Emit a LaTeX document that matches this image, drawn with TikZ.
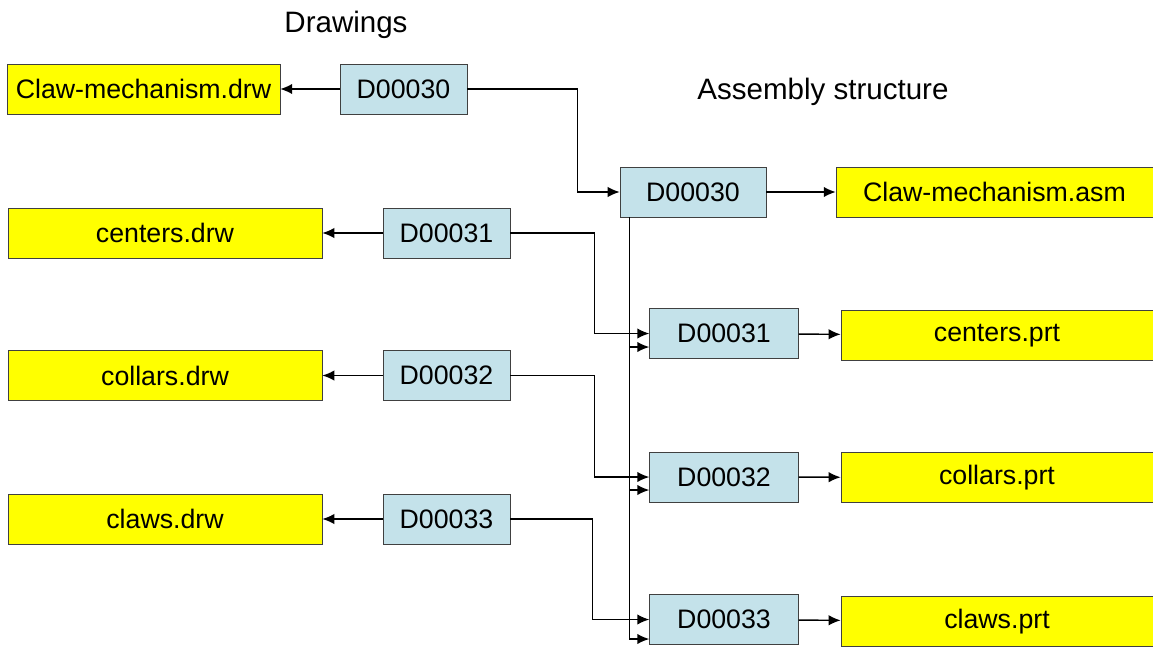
\documentclass[tikz,border=0pt]{standalone}
\usepackage{fontspec}
\setmainfont{Liberation Sans}
\usepackage{xcolor}
\usetikzlibrary{arrows.meta, calc}

\definecolor{partblue}{RGB}{196,226,234}
\definecolor{fileyellow}{RGB}{255,255,0}

\begin{document}
\begin{tikzpicture}[
  x=0.025cm, y=-0.025cm,
  file/.style={draw=black!75, fill=fileyellow, minimum height=1.25cm, inner sep=0pt, font=\fontsize{19}{22}\selectfont},
  doc/.style={draw=black!75, fill=partblue, minimum height=1.25cm, inner sep=0pt, font=\fontsize{19}{22}\selectfont},
  title/.style={font=\fontsize{21}{25}\selectfont},
  arrow/.style={-{Latex[length=3mm, width=2.6mm]}, line width=1pt}
]
\useasboundingbox (0,0) rectangle (1153,646);

% titles
\node[title] (drawtitle) at (346,25) {Drawings};
\node[title] (asmtitle) at (823,92) {Assembly structure};

% drawings column
\node[file, minimum width=6.82cm] (drw0) at (143.5,89) {Claw-mechanism.drw};
\node[file, minimum width=7.85cm] (drw1) at (165,233) {centers.drw};
\node[file, minimum width=7.85cm] (drw2) at (165,375.5) {collars.drw};
\node[file, minimum width=7.85cm] (drw3) at (165,519) {claws.drw};

\node[doc, minimum width=3.18cm] (dl0) at (403.5,89) {D00030};
\node[doc, minimum width=3.18cm] (dl1) at (446.5,233) {D00031};
\node[doc, minimum width=3.18cm] (dl2) at (446.5,375.5) {D00032};
\node[doc, minimum width=3.18cm] (dl3) at (446.5,519) {D00033};

% assembly column
\node[doc, minimum width=3.65cm] (dr0) at (693,192) {D00030};
\node[doc, minimum width=3.72cm] (dr1) at (724,333.5) {D00031};
\node[doc, minimum width=3.72cm] (dr2) at (724,477) {D00032};
\node[doc, minimum width=3.72cm] (dr3) at (724,619.5) {D00033};

\node[file, minimum width=7.92cm] (asm) at (994.5,192) {Claw-mechanism.asm};
\node[file, minimum width=7.8cm] (prt1) at (997,335.5) {centers.prt};
\node[file, minimum width=7.8cm] (prt2) at (997,477.5) {collars.prt};
\node[file, minimum width=7.8cm] (prt3) at (997,621.5) {claws.prt};

% drawing links
\draw[arrow] (dl0) -- (drw0);
\draw[arrow] (dl1) -- (drw1);
\draw[arrow] (dl2) -- (drw2);
\draw[arrow] (dl3) -- (drw3);

\draw[arrow] (dl0.east) -- ++(110,0) |- (dr0.west);
\draw[arrow] (dl1.east) -- ++(84,0) |- (dr1.west);
\draw[arrow] (dl2.east) -- ++(84,0) |- (dr2.west);
\draw[arrow] (dl3.east) -- ++(82,0) |- (dr3.west);

% assembly trunk
\coordinate (trunk) at ($(dr0.south west)+(10,0)$);
\draw[arrow] (trunk) |- ($(dr1.west)+(0,13.5)$);
\draw[arrow] (trunk) |- ($(dr2.west)+(0,13)$);
\draw[arrow] (trunk) |- ($(dr3.west)+(0,19.5)$);

\draw[arrow] (dr0) -- (asm);
\draw[arrow] (dr1) -- (prt1);
\draw[arrow] (dr2) -- (prt2);
\draw[arrow] (dr3) -- (prt3);
\end{tikzpicture}
\end{document}
